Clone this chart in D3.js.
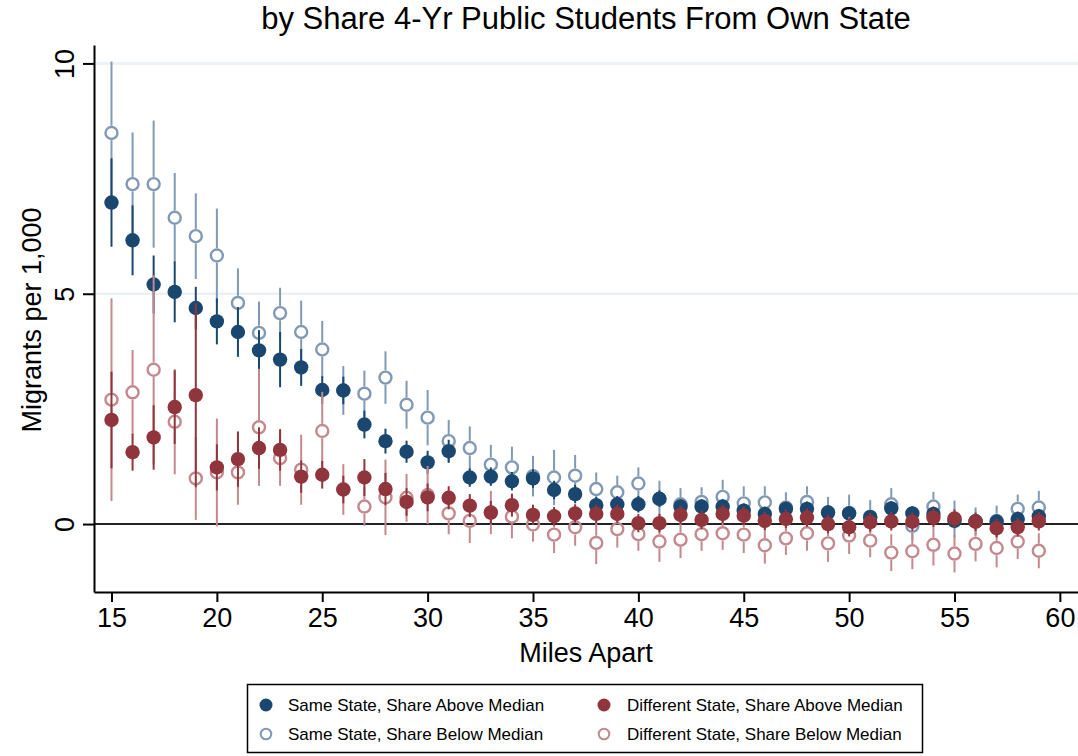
<!DOCTYPE html>
<html><head><meta charset="utf-8">
<script src="https://cdn.jsdelivr.net/npm/d3@7"></script>
<style>body{margin:0;background:#fff}svg{display:block;font-family:"Liberation Sans",Arial,sans-serif}</style>
</head><body><svg id="c" width="1078" height="756"></svg>
<script>
const miles = d3.range(15, 60);
const sameAbove = [6.98,6.16,5.2,5.04,4.69,4.4,4.17,3.77,3.57,3.4,2.91,2.9,2.16,1.8,1.57,1.34,1.58,1.01,1.03,0.93,0.99,0.74,0.65,0.41,0.43,0.43,0.55,0.38,0.38,0.38,0.29,0.22,0.33,0.33,0.25,0.23,0.15,0.34,0.23,0.22,0.07,0.06,0.05,0.11,0.17];
const sameAboveErr = [0.96,0.76,0.63,0.66,0.46,0.5,0.54,0.44,0.6,0.4,0.3,0.3,0.3,0.27,0.24,0.25,0.25,0.2,0.2,0.2,0.2,0.2,0.2,0.18,0.18,0.18,0.18,0.16,0.16,0.16,0.16,0.16,0.16,0.16,0.16,0.16,0.16,0.16,0.16,0.16,0.16,0.16,0.16,0.16,0.16];
const sameBelow = [8.49,7.38,7.38,6.65,6.25,5.83,4.8,4.15,4.58,4.17,3.79,2.9,2.83,3.18,2.59,2.31,1.8,1.65,1.29,1.23,1.04,1.01,1.05,0.76,0.69,0.88,0.54,0.43,0.48,0.59,0.45,0.47,0.36,0.48,0.25,0.24,0.16,0.43,-0.04,0.38,0.11,0.06,0.07,0.33,0.36];
const sameBelowErr = [1.55,1.12,1.38,0.97,0.93,1.02,0.75,0.68,0.55,0.68,0.62,0.53,0.5,0.57,0.52,0.6,0.46,0.47,0.43,0.45,0.44,0.6,0.45,0.36,0.36,0.35,0.4,0.35,0.32,0.37,0.37,0.35,0.33,0.34,0.34,0.4,0.36,0.35,0.3,0.32,0.4,0.3,0.33,0.31,0.36];
const diffAbove = [2.26,1.56,1.88,2.54,2.8,1.23,1.41,1.65,1.61,1.03,1.07,0.75,1.01,0.76,0.48,0.58,0.57,0.4,0.25,0.41,0.2,0.17,0.23,0.22,0.22,0.02,0.02,0.2,0.09,0.22,0.18,0.07,0.11,0.14,0.0,-0.07,0.04,0.06,0.05,0.14,0.12,0.05,-0.09,-0.07,0.06];
const diffAboveErr = [1.05,0.4,0.7,0.8,2.0,0.5,0.6,0.45,0.45,0.35,0.3,0.3,0.4,0.35,0.3,0.3,0.25,0.25,0.25,0.25,0.22,0.2,0.2,0.2,0.2,0.2,0.2,0.2,0.2,0.2,0.2,0.2,0.2,0.2,0.2,0.2,0.2,0.2,0.2,0.2,0.2,0.2,0.2,0.2,0.2];
const diffBelow = [2.7,2.86,3.35,2.22,0.99,1.12,1.12,2.1,1.43,1.18,2.02,0.75,0.38,0.58,0.57,0.63,0.23,0.07,0.25,0.16,-0.01,-0.23,-0.07,-0.41,-0.11,-0.22,-0.38,-0.34,-0.22,-0.2,-0.23,-0.46,-0.31,-0.2,-0.42,-0.25,-0.36,-0.62,-0.59,-0.45,-0.64,-0.43,-0.52,-0.38,-0.58];
const diffBelowErr = [2.2,0.92,2.05,1.14,0.9,1.17,0.7,1.27,0.6,0.76,0.85,0.55,0.42,0.82,0.52,0.63,0.45,0.48,0.47,0.47,0.37,0.4,0.4,0.46,0.4,0.36,0.44,0.4,0.36,0.36,0.4,0.4,0.36,0.38,0.4,0.4,0.36,0.4,0.39,0.45,0.41,0.38,0.42,0.38,0.38];
const xTicks = [15,20,25,30,35,40,45,50,55,60];
const yTicks = [0,5,10];
const seriesNames = ["Same State, Share Above Median","Same State, Share Below Median","Different State, Share Above Median","Different State, Share Below Median"];

const svg = d3.select("#c");
const x = d3.scaleLinear().domain([14.17, 60.86]).range([94, 1078]);
const y = d3.scaleLinear().domain([-1.475, 10.4]).range([592, 45]);

const series = [
  {name: seriesNames[1], v: sameBelow, e: sameBelowErr, color: "#8099b4", filled: false},
  {name: seriesNames[0], v: sameAbove, e: sameAboveErr, color: "#1a476f", filled: true},
  {name: seriesNames[3], v: diffBelow, e: diffBelowErr, color: "#c3898d", filled: false},
  {name: seriesNames[2], v: diffAbove, e: diffAboveErr, color: "#90353b", filled: true}
];

// gridlines
svg.append("g").selectAll("line").data([5,10]).join("line")
  .attr("x1", 95).attr("x2", 1078).attr("y1", d => y(d)).attr("y2", d => y(d))
  .attr("stroke", "#e9f1f3").attr("stroke-width", 2.5);

// zero line
svg.append("line").attr("x1", 94).attr("x2", 1078).attr("y1", y(0)).attr("y2", y(0))
  .attr("stroke", "#222").attr("stroke-width", 2);

// axes
const xAxis = svg.append("g").attr("transform", `translate(0,${y.range()[0]})`)
  .call(d3.axisBottom(x).tickValues(xTicks).tickSize(10).tickSizeOuter(0).tickPadding(6));
xAxis.select(".domain").attr("stroke", "#000").attr("stroke-width", 2);
xAxis.selectAll(".tick line").attr("stroke", "#000").attr("stroke-width", 2);
xAxis.selectAll(".tick text").attr("font-size", 27).attr("fill", "#000")
  .attr("font-family", '"Liberation Sans",Arial,sans-serif');

const yAxis = svg.append("g").attr("transform", `translate(${x.range()[0]},0)`)
  .call(d3.axisLeft(y).tickValues(yTicks).tickSize(11).tickSizeOuter(0).tickPadding(6));
yAxis.select(".domain").attr("stroke", "#000").attr("stroke-width", 2);
yAxis.selectAll(".tick line").attr("stroke", "#000").attr("stroke-width", 2);
yAxis.selectAll(".tick text").attr("font-size", 27).attr("fill", "#000")
  .attr("font-family", '"Liberation Sans",Arial,sans-serif')
  .attr("x", 0).attr("dy", 0).attr("text-anchor", "middle")
  .attr("transform", "translate(-27,0) rotate(-90)").attr("dominant-baseline", "middle");

// error bars and markers
const R = 7.2;
series.forEach(s => {
  const g = svg.append("g");
  const data = miles.map((m, i) => ({m, v: s.v[i], e: s.e[i]}));
  const gap = s.filled ? 0 : R;
  g.selectAll("line.up").data(data).join("line")
    .attr("x1", d => x(d.m)).attr("x2", d => x(d.m))
    .attr("y1", d => y(d.v + d.e)).attr("y2", d => Math.max(y(d.v + d.e), y(d.v) - gap))
    .attr("stroke", s.color).attr("stroke-width", 2);
  g.selectAll("line.dn").data(data).join("line")
    .attr("x1", d => x(d.m)).attr("x2", d => x(d.m))
    .attr("y1", d => Math.min(y(d.v - d.e), y(d.v) + gap)).attr("y2", d => y(d.v - d.e))
    .attr("stroke", s.color).attr("stroke-width", 2);
  g.selectAll("circle").data(data).join("circle")
    .attr("cx", d => x(d.m)).attr("cy", d => y(d.v))
    .attr("r", s.filled ? R : R - 1.2)
    .attr("fill", s.filled ? s.color : "none")
    .attr("stroke", s.filled ? "none" : s.color)
    .attr("stroke-width", 2.4);
});

// titles
svg.append("text").attr("x", 586).attr("y", 29).attr("text-anchor", "middle")
  .attr("font-size", 31).attr("fill", "#000").text("by Share 4-Yr Public Students From Own State");
svg.append("text").attr("x", 586).attr("y", 662).attr("text-anchor", "middle")
  .attr("font-size", 27).attr("fill", "#000").text("Miles Apart");
svg.append("text").attr("transform", "translate(41,320) rotate(-90)").attr("text-anchor", "middle")
  .attr("font-size", 27).attr("fill", "#000").text("Migrants per 1,000");

// legend
const lg = svg.append("g");
lg.append("rect").attr("x", 247.5).attr("y", 684.5).attr("width", 675).attr("height", 68)
  .attr("fill", "#fff").attr("stroke", "#000").attr("stroke-width", 1.5);
const legendItems = [
  {s: series[1], cx: 266, tx: 288, cy: 705},
  {s: series[0], cx: 266, tx: 288, cy: 734},
  {s: series[3], cx: 604, tx: 627, cy: 705},
  {s: series[2], cx: 604, tx: 627, cy: 734}
];
legendItems.forEach(it => {
  lg.append("circle").attr("cx", it.cx).attr("cy", it.cy).attr("r", it.s.filled ? 6.5 : 5.3)
    .attr("fill", it.s.filled ? it.s.color : "none").attr("stroke", it.s.filled ? "none" : it.s.color)
    .attr("stroke-width", 2);
  lg.append("text").attr("x", it.tx).attr("y", it.cy).attr("dy", "0.35em")
    .attr("font-size", 17).attr("fill", "#000").text(it.s.name);
});
</script></body></html>
